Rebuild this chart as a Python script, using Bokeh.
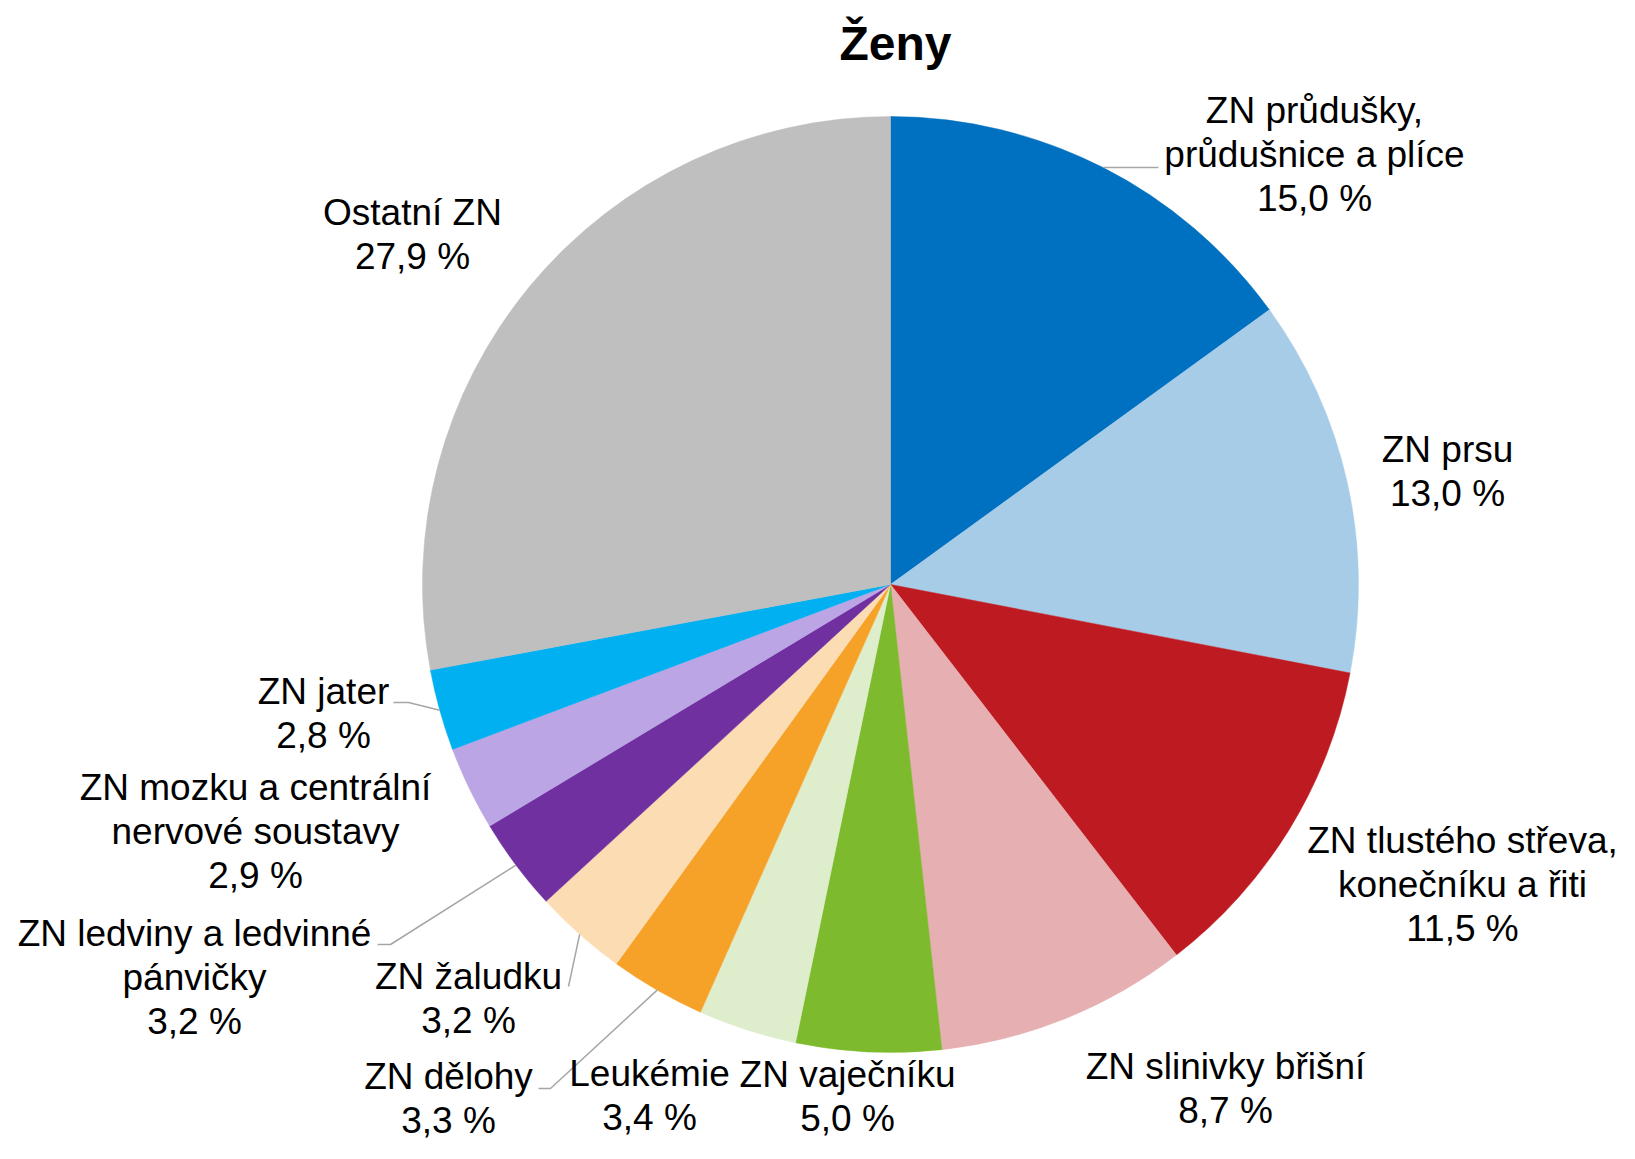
import math
from bokeh.plotting import figure
from bokeh.models import Range1d, ColumnDataSource
from bokeh.core.properties import value
from bokeh.embed import file_html
from bokeh.resources import INLINE

# ---- data ----
categories = [
    "ZN průdušky,\nprůdušnice a plíce",
    "ZN prsu",
    "ZN tlustého střeva,\nkonečníku a řiti",
    "ZN slinivky břišní",
    "ZN vaječníku",
    "Leukémie",
    "ZN dělohy",
    "ZN žaludku",
    "ZN ledviny a ledvinné\npánvičky",
    "ZN mozku a centrální\nnervové soustavy",
    "ZN jater",
    "Ostatní ZN",
]
shares = [15.0, 13.0, 11.5, 8.7, 5.0, 3.4, 3.3, 3.2, 3.2, 2.9, 2.8, 27.9]
colors = ["#0070C0", "#A6CCE7", "#BE1A22", "#E6AFB1", "#7DBA2D", "#DEEDCB",
          "#F6A128", "#FCDDB3", "#7030A0", "#BBA5E4", "#00B0F0", "#BFBFBF"]
title_text = "Ženy"

# ---- layout (screen pixel coordinates) ----
W, H = 1619, 1143
PAGE_H = 1159
CX, CY, R = 890, 584, 468
FONT = "Liberation Sans"
FS = 37
LH = 44
# label anchor: centre x, centre y of first line
label_pos = [
    (1314, 110), (1447, 449), (1462, 840), (1225, 1066), (847, 1074),
    (649, 1073), (448, 1076), (468, 976), (194, 933), (255, 787),
    (323, 691), (412, 212),
]
# leader lines: intermediate points (screen coords) from the label side
leaders = {
    0: [(1158, None)],
    6: [(538, 1088), (550, 1088)],
    7: [(568, 986)],
    8: [(377, 944), (390, 944)],
    10: [(393, 702), (408, 702)],
}


def Y(sy):
    return PAGE_H - sy


p = figure(width=W, height=H, output_backend="svg", toolbar_location=None,
           x_range=Range1d(0, W), y_range=Range1d(PAGE_H - H, PAGE_H),
           min_border=0)
p.axis.visible = False
p.grid.visible = False
p.outline_line_color = None
p.background_fill_color = "white"
p.border_fill_color = "white"

total = sum(shares)
starts, ends, mids = [], [], []
cum = 0.0
for v in shares:
    a0 = cum / total * 2 * math.pi
    cum += v
    a1 = cum / total * 2 * math.pi
    starts.append(math.pi / 2 - a1)
    ends.append(math.pi / 2 - a0)
    mids.append((a0 + a1) / 2)

src = ColumnDataSource(dict(start=starts, end=ends, color=colors))
p.wedge(x=CX, y=Y(CY), radius=R, start_angle="start", end_angle="end",
        fill_color="color", line_color="color", line_width=0.5, source=src)

# leader lines
for i, pts in leaders.items():
    m = mids[i]
    ex = CX + R * math.sin(m)
    ey = CY - R * math.cos(m)
    xs, ys = [], []
    for (px, py) in pts:
        xs.append(px)
        ys.append(Y(ey if py is None else py))
    xs.append(ex)
    ys.append(Y(ey))
    p.line(xs, ys, line_color="#A6A6A6", line_width=1.5)

# labels
tx, ty, tt = [], [], []
for i, (cat, v) in enumerate(zip(categories, shares)):
    lines = cat.split("\n") + [f"{v:.1f}".replace(".", ",") + " %"]
    x0, y0 = label_pos[i]
    for k, ln in enumerate(lines):
        tx.append(x0)
        ty.append(Y(y0 + k * LH))
        tt.append(ln)
p.text(x=tx, y=ty, text=tt, text_font=value(FONT), text_font_size=f"{FS}px",
       text_align="center", text_baseline="middle", text_color="#000000")

p.text(x=[895], y=[Y(43)], text=[title_text], text_font=value(FONT),
       text_font_size="48px", text_font_style="bold", text_align="center",
       text_baseline="middle", text_color="#000000")

open("out.html", "w").write(file_html(p, INLINE))
